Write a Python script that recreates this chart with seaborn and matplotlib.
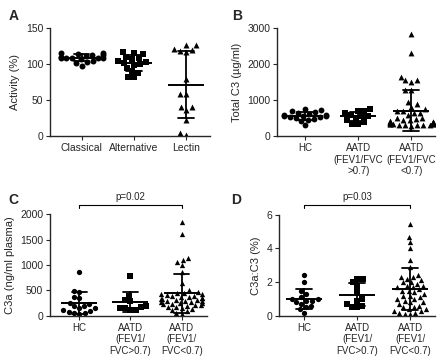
import numpy as np
import pandas as pd
import matplotlib
matplotlib.use('Agg')
import matplotlib.pyplot as plt
import seaborn as sns

sns.set_style('ticks')
plt.rcParams['font.family'] = ['Liberation Sans', 'DejaVu Sans']
plt.rcParams['font.size'] = 7.5

# Panel A - pathway activity (%)
a_groups = ['Classical', 'Alternative', 'Lectin']
a_classical = [115, 114, 113, 112, 113, 115, 109, 108, 108, 109, 107, 108, 110, 103, 101, 98, 104]
a_alternative = [116, 114, 117, 110, 108, 107, 104, 103, 102, 100, 99, 95, 90, 88, 82, 82]
a_lectin = [126, 126, 121, 119, 118, 117, 80, 58, 58, 40, 40, 36, 22, 2, 4]

# groups for B, C, D
g_keys = ['HC', 'AATD>0.7', 'AATD<0.7']
b_labels = ['HC', 'AATD\n(FEV1/FVC\n>0.7)', 'AATD\n(FEV1/FVC\n<0.7)']
cd_labels = ['HC', 'AATD\n(FEV1/\nFVC>0.7)', 'AATD\n(FEV1/\nFVC<0.7)']

# Panel B - total C3 (ug/ml)
b_hc = [750, 720, 700, 680, 650, 620, 600, 580, 570, 560, 550, 540, 520, 500, 480, 450, 420, 300]
b_hi = [750, 700, 690, 650, 600, 550, 550, 500, 450, 400, 350, 350]
b_lo = [2850, 2300, 1650, 1570, 1550, 1500, 1270, 1270, 950, 900, 820, 750, 700, 700, 650, 650,
        600, 500, 500, 480, 450, 450, 420, 400, 400, 400, 390, 380, 380, 370, 360, 360, 350,
        350, 340, 340, 330, 320, 320, 310, 300, 300, 290]

# Panel C - C3a (ng/ml plasma)
c_hc = [870, 490, 460, 380, 350, 250, 240, 200, 200, 150, 150, 120, 100, 80, 60, 50, 40]
c_hi = [780, 400, 320, 300, 200, 180, 150, 150, 120, 110]
c_lo = [1850, 1600, 1130, 1100, 1050, 1000, 860, 650, 500, 460, 450, 440, 430, 420, 410, 400,
        390, 380, 370, 360, 350, 340, 330, 320, 310, 300, 300, 290, 280, 270, 260, 250, 240,
        230, 220, 210, 200, 180, 170, 150, 130, 110, 90, 50, 40]

# Panel D - C3a:C3 (%)
d_hc = [2.4, 2.0, 1.5, 1.3, 1.1, 1.0, 1.0, 0.9, 0.9, 0.8, 0.7, 0.6, 0.5, 0.4, 0.2]
d_hi = [2.2, 2.2, 2.0, 1.8, 1.4, 1.0, 0.9, 0.7, 0.6, 0.5, 0.5]
d_lo = [5.45, 4.7, 4.4, 4.0, 3.3, 2.9, 2.4, 2.3, 2.3, 2.2, 2.1, 2.0, 2.0, 1.9, 1.8, 1.8, 1.7,
        1.7, 1.6, 1.5, 1.5, 1.4, 1.3, 1.2, 1.2, 1.1, 1.0, 1.0, 0.9, 0.8, 0.8, 0.7, 0.6, 0.5,
        0.5, 0.4, 0.4, 0.3, 0.3, 0.2, 0.2, 0.1, 0.1]

markers = ['o', 's', '^']


def long_df(keys, series):
    rows = []
    for k, vals in zip(keys, series):
        for v in vals:
            rows.append((k, v))
    return pd.DataFrame(rows, columns=['group', 'value'])


def draw_panel(ax, keys, series, labels, ylabel, yticks, xlim, msize=4.3, xfs=7.5):
    df = long_df(keys, series)
    for k, m in zip(keys, markers):
        sns.swarmplot(data=df[df['group'] == k], x='group', y='value', order=keys,
                      marker=m, color='black', size=msize, ax=ax, zorder=2)
    sns.pointplot(data=df, x='group', y='value', order=keys, errorbar='sd',
                  capsize=0.3, color='black', linestyle='none', marker='_',
                  markersize=26, markeredgewidth=1.4, err_kws={'linewidth': 1.3},
                  ax=ax, zorder=3)
    ax.set_xlim(*xlim)
    ax.set_ylim(yticks[0], yticks[-1])
    ax.set_yticks(yticks)
    ax.set_xticks(range(len(keys)))
    ax.set_xticklabels(labels, fontsize=xfs)
    ax.set_xlabel('')
    ax.set_ylabel(ylabel, fontsize=8)
    sns.despine(ax=ax)
    ax.tick_params(length=3, width=0.8, labelsize=7.5, pad=2)
    ax.tick_params(axis='x', labelsize=xfs)
    for s in ax.spines.values():
        s.set_linewidth(1.0)


def sig_bar(ax, x0, x1, y, h, text):
    ax.plot([x0, x0, x1, x1], [y - h, y, y, y - h], color='black', lw=0.8, clip_on=False)
    ax.text((x0 + x1) / 2, y + h * 0.9, text, ha='center', va='bottom', fontsize=7)


fig = plt.figure(figsize=(4.4, 3.61), dpi=100)
axA = fig.add_axes([0.114, 0.623, 0.363, 0.299])
axB = fig.add_axes([0.630, 0.623, 0.359, 0.299])
axC = fig.add_axes([0.114, 0.125, 0.357, 0.282])
axD = fig.add_axes([0.634, 0.125, 0.355, 0.280])

draw_panel(axA, a_groups, [a_classical, a_alternative, a_lectin], a_groups,
           'Activity (%)', [0, 50, 100, 150], (-0.6, 2.45))
draw_panel(axB, g_keys, [b_hc, b_hi, b_lo], b_labels,
           'Total C3 (µg/ml)', [0, 1000, 2000, 3000], (-0.53, 2.45), msize=4.2, xfs=7)
draw_panel(axC, g_keys, [c_hc, c_hi, c_lo], cd_labels,
           'C3a (ng/ml plasma)', [0, 500, 1000, 1500, 2000], (-0.57, 2.5), msize=3.8, xfs=7)
draw_panel(axD, g_keys, [d_hc, d_hi, d_lo], cd_labels,
           'C3a:C3 (%)', [0, 2, 4, 6], (-0.47, 2.47), msize=3.8, xfs=7)

sig_bar(axC, 0, 2, 2180, 70, 'p=0.02')
sig_bar(axD, 0, 2, 6.6, 0.2, 'p=0.03')

for lbl, x, y in [('A', 0.02, 0.975), ('B', 0.527, 0.975), ('C', 0.02, 0.465), ('D', 0.525, 0.465)]:
    fig.text(x, y, lbl, fontsize=10, fontweight='bold', va='top', ha='left')

fig.savefig('out.png', dpi=100)
